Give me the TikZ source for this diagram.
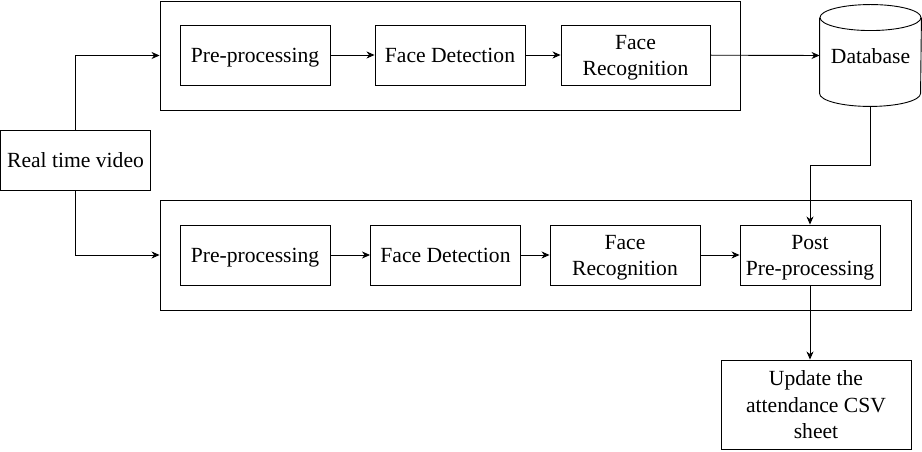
\documentclass[tikz,border=0pt]{standalone}
\usepackage{fontspec}
\setmainfont{Liberation Serif}
\usetikzlibrary{arrows.meta}
\newcommand{\upstrut}{\rule{0pt}{20pt}}
\newcommand{\downstrut}{\rule[-4.6pt]{0pt}{4.6pt}}

\begin{document}
\begin{tikzpicture}[x=1pt,y=1pt,line width=0.9pt,
    font=\fontsize{21.6}{26.5}\selectfont,
    box/.style={draw,minimum height=60pt,inner sep=2pt,align=center},
    frame/.style={draw,inner sep=0pt},
    arrow/.style={-{Stealth[length=8pt,width=7pt,inset=2.5pt]}}]
    \useasboundingbox (0,0) rectangle (922,452);
    \node[box,minimum width=150pt] (video) at (75.5,292) {\upstrut Real time video\downstrut};
    \node[frame,minimum width=580pt,minimum height=109pt] (upper) at (450,396.5) {};
    \node[frame,minimum width=751pt,minimum height=110pt] (lower) at (535.5,197) {};
    \node[box,minimum width=150pt] (pre1) at (255,397) {\upstrut Pre-processing\downstrut};
    \node[box,minimum width=150pt] (detect1) at (450,397) {\upstrut Face Detection\downstrut};
    \node[box,minimum width=149pt] (recog1) at (635.5,397) {\upstrut Face\\Recognition\downstrut};
    \node[minimum width=101pt,minimum height=101pt,inner sep=0pt] (db) at (870.5,396.5) {\upstrut Database\downstrut};
    \draw ([yshift=-13pt]db.north west) -- ([yshift=13pt]db.south west)
      arc[start angle=180,end angle=360,x radius=50.5pt,y radius=13pt]
      -- ([yshift=-13pt]db.north east);
    \draw ([yshift=-13pt]db.north) ellipse [x radius=50.5pt,y radius=13pt];
    \node[box,minimum width=150pt] (pre2) at (255,197) {\upstrut Pre-processing\downstrut};
    \node[box,minimum width=150pt] (detect2) at (445.5,197) {\upstrut Face Detection\downstrut};
    \node[box,minimum width=150pt] (recog2) at (625,197) {\upstrut Face\\Recognition\downstrut};
    \node[box,minimum width=140pt] (post) at (810,197) {\upstrut Post\\Pre-processing\downstrut};
    \node[box,minimum width=190pt,minimum height=89pt] (csv) at (816,47.5) {\upstrut Update the\\attendance CSV\\sheet\downstrut};
    \coordinate (bend) at (870.5,287);
    \draw[arrow] (video.north) |- (upper.west);
    \draw[arrow] (video.south) |- (lower.west);
    \draw[arrow] (pre1) -- (detect1);
    \draw[arrow] (detect1) -- (recog1);
    \draw[arrow] (recog1) -- (db.west);
    \draw[arrow] (pre2) -- (detect2);
    \draw[arrow] (detect2) -- (recog2);
    \draw[arrow] (recog2) -- (post);
    \draw[arrow] (db.south) -- (bend) -| (post.north);
    \draw[arrow] (post.south) -- (post.south |- csv.north);
  \end{tikzpicture}
\end{document}
